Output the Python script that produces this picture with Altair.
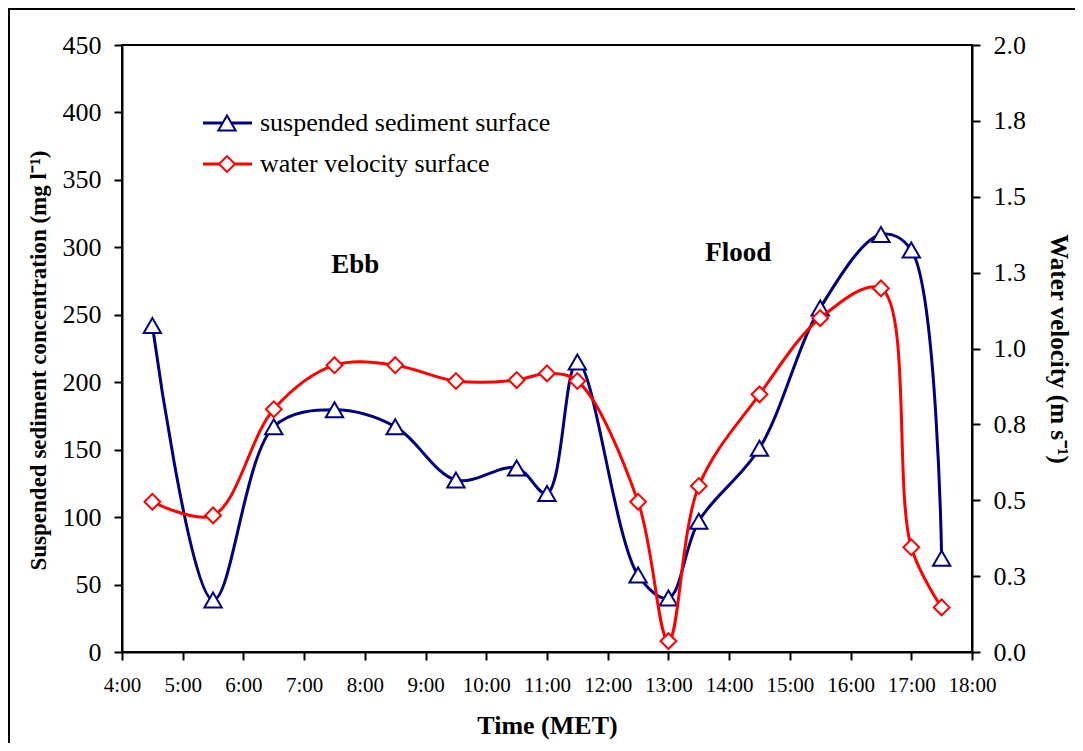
import altair as alt
import pandas as pd

# ---------------- data ----------------
times = ["4:30", "5:30", "6:30", "7:30", "8:30", "9:30", "10:30", "11:00", "11:30",
         "12:30", "13:00", "13:30", "14:30", "15:30", "16:30", "17:00", "17:30"]
ssc = [242, 38.5, 167, 179.5, 167, 127.5, 136.5, 117.5, 215,
       57, 40, 97, 151, 255, 309.5, 298, 69.5]
velocity = [0.495, 0.45, 0.80, 0.945, 0.945, 0.893, 0.896, 0.918, 0.893,
            0.495, 0.036, 0.547, 0.849, 1.10, 1.198, 0.345, 0.147]

series_names = ["suspended sediment surface", "water velocity surface"]
series_colors = ["#000080", "#FF0000"]
series_shapes = ["triangle-up", "diamond"]

x_ticks = list(range(4, 19))
ssc_ticks = list(range(0, 451, 50))
vel_ticks = [0, 0.25, 0.5, 0.75, 1.0, 1.25, 1.5, 1.75, 2.0]

phase_labels = ["Ebb", "Flood"]
phase_hours = [7.84, 14.15]
phase_ssc = [287, 296]


def to_hours(t):
    h, m = t.split(":")
    return int(h) + int(m) / 60.0


df = pd.DataFrame({"hour": [to_hours(t) for t in times], "ssc": ssc, "vel": velocity})
ann_df = pd.DataFrame({"hour": phase_hours, "ssc": phase_ssc, "label": phase_labels})

FONT = "Liberation Serif, Times New Roman, serif"
W, H = 850, 607
PAD = {"left": 114, "top": 37, "right": 103, "bottom": 91}
CURVE = "catmull-rom"

xenc = alt.X(
    "hour:Q",
    scale=alt.Scale(domain=[4, 18], nice=False, zero=False),
    axis=alt.Axis(values=x_ticks, labelExpr="datum.value + ':00'", title="Time (MET)",
                  labelFontSize=21, labelPadding=14, labelOverlap=False, labelFlush=False,
                  titleFontSize=26, titleFontWeight="bold",
                  titleY=73, titleBaseline="middle"),
)

yl = alt.Y(
    "ssc:Q",
    scale=alt.Scale(domain=[0, 450], nice=False),
    axis=alt.Axis(orient="left", values=ssc_ticks, labelFontSize=26, labelPadding=13,
                  labelOverlap=False, labelFlush=False,
                  title="Suspended sediment concentration (mg l\u207b\u00b9)",
                  titleFontSize=23, titleFontWeight="bold", titleX=-84, titleY=315,
                  titleBaseline="middle", titleAlign="center"),
)

yr = alt.Y(
    "vel:Q",
    scale=alt.Scale(domain=[0, 2], nice=False),
    axis=alt.Axis(orient="right", values=vel_ticks, format=".1f", labelFontSize=26,
                  labelPadding=13, labelOverlap=False, labelFlush=False,
                  title="Water velocity (m s\u207b\u00b9)",
                  titleFontSize=25, titleFontWeight="bold", titleAngle=90, titleX=86,
                  titleBaseline="middle", titleAlign="center"),
)

base = alt.Chart(df)

blue_line = base.mark_line(color=series_colors[0], strokeWidth=3,
                           interpolate=CURVE).encode(x=xenc, y=yl)
blue_pts = base.mark_point(shape=series_shapes[0], size=300, filled=True, fill="white",
                           stroke=series_colors[0], strokeWidth=2, opacity=1).encode(x=xenc, y=yl)
ann = alt.Chart(ann_df).mark_text(font=FONT, fontSize=27, fontWeight="bold",
                                  color="black").encode(x=xenc, y=yl, text="label:N")
blue_group = alt.layer(blue_line, blue_pts, ann)

red_line = base.mark_line(color=series_colors[1], strokeWidth=3,
                          interpolate=CURVE).encode(x=xenc, y=yr)
red_pts = base.mark_point(shape=series_shapes[1], size=250, filled=True, fill="white",
                          stroke=series_colors[1], strokeWidth=2, opacity=1).encode(x=xenc, y=yr)
red_group = alt.layer(red_line, red_pts)

legend_layers = []
for i, name in enumerate(series_names):
    ypx = 78 + i * 41
    ldf = pd.DataFrame({"name": [name]})
    lc = alt.Chart(ldf)
    legend_layers.append(lc.mark_rule(color=series_colors[i], strokeWidth=3).encode(
        x=alt.value(81), x2=alt.value(130), y=alt.value(ypx)))
    legend_layers.append(lc.mark_point(shape=series_shapes[i], size=300 if i == 0 else 250,
                                       filled=True, fill="white", stroke=series_colors[i],
                                       strokeWidth=2, opacity=1).encode(
        x=alt.value(105), y=alt.value(ypx)))
    legend_layers.append(lc.mark_text(align="left", baseline="middle", font=FONT, fontSize=26,
                                      color="black").encode(
        x=alt.value(138), y=alt.value(ypx), text="name:N"))

bdf = pd.DataFrame({"k": [0]})
border_left = alt.Chart(bdf).mark_rule(color="black", strokeWidth=2).encode(
    x=alt.value(-PAD["left"] + 1), y=alt.value(-PAD["top"]), y2=alt.value(H + PAD["bottom"]))
border_top = alt.Chart(bdf).mark_rule(color="black", strokeWidth=2).encode(
    x=alt.value(-PAD["left"]), x2=alt.value(W + PAD["right"]), y=alt.value(-PAD["top"] + 1))

chart = alt.layer(blue_group, red_group, *legend_layers, border_left, border_top).resolve_scale(
    y="independent"
).properties(
    width=W, height=H, padding=PAD, autosize=alt.AutoSizeParams(type="none"), background="white"
).configure(
    font=FONT
).configure_view(
    stroke="black", strokeWidth=2
).configure_axis(
    grid=False, domainColor="black", domainWidth=2, tickColor="black", tickWidth=2,
    tickSize=8, labelColor="black", titleColor="black", labelFont=FONT, titleFont=FONT
)

chart.save("out.html", embed_options={"renderer": "svg", "actions": False})
